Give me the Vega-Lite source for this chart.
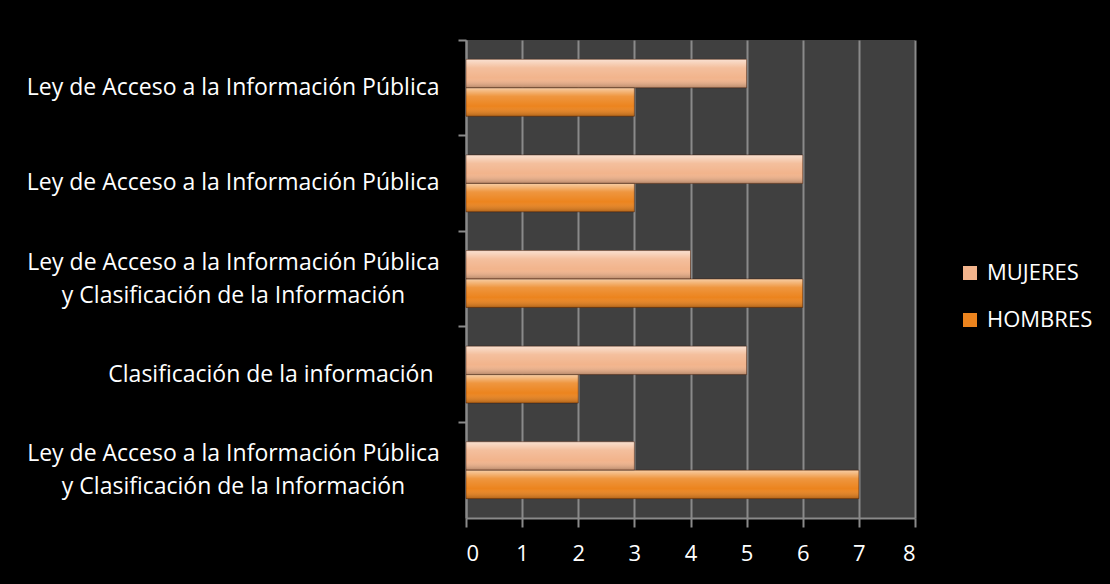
{
  "$schema": "https://vega.github.io/schema/vega-lite/v6.json",
  "autosize": {"type": "none"},
  "width": 449,
  "height": 478,
  "padding": {"left": 466, "top": 40, "right": 195, "bottom": 66},
  "background": "#000000",
  "config": {
    "view": {"fill": "#404040", "stroke": null},
    "font": "Open Sans"
  },
  "data": {
    "values": [
      {"orden": 1, "cat": "Ley de Acceso a la Información Pública", "sexo": "MUJERES", "valor": 5},
      {"orden": 1, "cat": "Ley de Acceso a la Información Pública", "sexo": "HOMBRES", "valor": 3},
      {"orden": 2, "cat": "Ley de Acceso a la Información Pública ", "sexo": "MUJERES", "valor": 6},
      {"orden": 2, "cat": "Ley de Acceso a la Información Pública ", "sexo": "HOMBRES", "valor": 3},
      {"orden": 3, "cat": "Ley de Acceso a la Información Pública|y Clasificación de la Información", "sexo": "MUJERES", "valor": 4},
      {"orden": 3, "cat": "Ley de Acceso a la Información Pública|y Clasificación de la Información", "sexo": "HOMBRES", "valor": 6},
      {"orden": 4, "cat": "Clasificación de la información", "sexo": "MUJERES", "valor": 5},
      {"orden": 4, "cat": "Clasificación de la información", "sexo": "HOMBRES", "valor": 2},
      {"orden": 5, "cat": "Ley de Acceso a la Información Pública|y Clasificación de la Información ", "sexo": "MUJERES", "valor": 3},
      {"orden": 5, "cat": "Ley de Acceso a la Información Pública|y Clasificación de la Información ", "sexo": "HOMBRES", "valor": 7}
    ]
  },
  "encoding": {
    "x": {
      "field": "valor",
      "type": "quantitative",
      "scale": {"domain": [0, 8], "nice": false},
      "axis": {
        "title": null,
        "values": [0, 1, 2, 3, 4, 5, 6, 7, 8],
        "grid": true,
        "gridColor": "#8a8a8a",
        "gridWidth": 2,
        "domainColor": "#8a8a8a",
        "domainWidth": 2,
        "tickColor": "#8a8a8a",
        "tickWidth": 2,
        "tickSize": 9,
        "labelFontSize": 22,
        "labelColor": "#ffffff",
        "labelPadding": 16
      }
    },
    "y": {
      "field": "cat",
      "type": "nominal",
      "sort": {"field": "orden", "op": "min"},
      "scale": {"paddingInner": 0, "paddingOuter": 0},
      "axis": {
        "title": null,
        "bandPosition": 0,
        "grid": false,
        "domainColor": "#8a8a8a",
        "domainWidth": 2,
        "tickColor": "#8a8a8a",
        "tickWidth": 2,
        "tickSize": 8,
        "labelFontSize": 23,
        "labelColor": "#ffffff",
        "labelLimit": 0,
        "labelLineHeight": 33,
        "labelPadding": {"condition": [
          {"test": "indexof(datum.value, '|') >= 0", "value": 225},
          {"test": "indexof(datum.value, 'Clasificación') == 0", "value": 25}
        ], "value": 19},
        "labelAlign": {"condition": {"test": "indexof(datum.value, '|') >= 0", "value": "center"}, "value": "right"},
        "labelOffset": {"condition": {"test": "indexof(datum.value, '|') >= 0", "value": -16}, "value": 0},
        "labelExpr": "split(trim(datum.value), '|')"
      }
    },
    "yOffset": {
      "field": "sexo",
      "type": "nominal",
      "sort": ["MUJERES", "HOMBRES"],
      "scale": {"paddingInner": 0, "paddingOuter": 0.68}
    }
  },
  "layer": [
    {
      "mark": {"type": "bar"},
      "encoding": {
        "color": {
          "field": "sexo",
          "type": "nominal",
          "sort": ["MUJERES", "HOMBRES"],
          "scale": {"domain": ["MUJERES", "HOMBRES"], "range": ["#F2B48C", "#EC841E"]},
          "legend": {
            "title": null,
            "orient": "none",
            "legendX": 493,
            "legendY": 222,
            "symbolType": "square",
            "symbolSize": 196,
            "symbolStrokeWidth": 0,
            "labelFontSize": 22,
            "labelColor": "#ffffff",
            "labelOffset": 6,
            "rowPadding": 25
          }
        }
      }
    },
    {
      "mark": {
        "type": "bar",
        "fill": {
          "gradient": "linear",
          "x1": 0, "y1": 0, "x2": 0, "y2": 1,
          "stops": [
            {"offset": 0, "color": "rgba(255,255,255,0.6)"},
            {"offset": 0.3, "color": "rgba(255,255,255,0.15)"},
            {"offset": 0.65, "color": "rgba(255,255,255,0)"},
            {"offset": 1, "color": "rgba(0,0,0,0.25)"}
          ]
        },
        "stroke": "rgba(60,20,0,0.45)",
        "strokeWidth": 1
      },
      "encoding": {}
    }
  ]
}
